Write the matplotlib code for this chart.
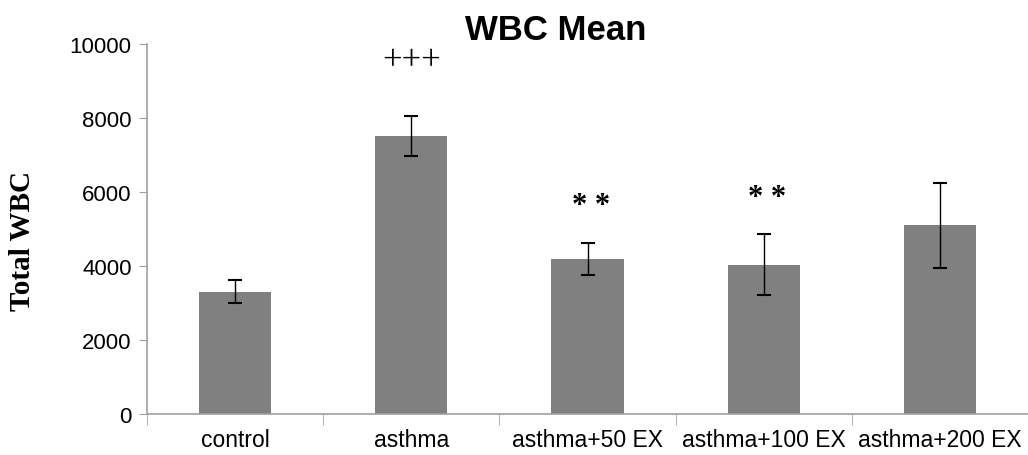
import matplotlib
matplotlib.use("Agg")
import matplotlib.pyplot as plt
import numpy as np
from matplotlib.ticker import FixedLocator

categories = ["control", "asthma", "asthma+50 EX", "asthma+100 EX", "asthma+200 EX"]
means = [3300, 7520, 4190, 4030, 5100]
errors = [310, 550, 425, 825, 1145]
annotations = ["", "+++", "* *", "* *", ""]
annot_y = [0, 9560, 5640, 5860, 0]
yticks = [0, 2000, 4000, 6000, 8000, 10000]

fig = plt.figure(figsize=(10.28, 4.56), dpi=100)
ax = fig.add_axes([0.143, 0.09, 0.857, 0.811])

x = np.arange(len(categories))
ax.bar(x, means, width=0.41, color="#808080", zorder=2)
ax.errorbar(x, means, yerr=errors, fmt="none", ecolor="black", elinewidth=1.0,
            capsize=5, capthick=1.5, zorder=3)

for xi, txt, yy in zip(x, annotations, annot_y):
    if txt:
        if txt.startswith("+"):
            ax.text(xi, yy, txt, ha="center", va="center", fontsize=25,
                    family="Liberation Serif")
        else:
            ax.text(xi + 0.02, yy, txt, ha="center", va="center", fontsize=22,
                    family="Liberation Serif", fontweight="bold")

ax.set_xlim(-0.5, len(categories) - 0.5)
ax.set_ylim(0, 10000)
ax.set_yticks(yticks)
ax.set_yticklabels([str(v) for v in yticks], family="Liberation Sans", fontsize=16)

ax.set_xticks(x)
ax.set_xticklabels(categories, family="Liberation Sans", fontsize=16.5)
ax.xaxis.set_minor_locator(FixedLocator(np.arange(-0.5, len(categories), 1.0)))
ax.tick_params(axis="x", which="major", length=0, pad=10)
ax.tick_params(axis="x", which="minor", length=8, color="#a0a0a0", direction="out")
ax.tick_params(axis="y", length=6, color="#a0a0a0", direction="out", pad=5)

for s in ["top", "right"]:
    ax.spines[s].set_visible(False)
for s in ["left", "bottom"]:
    ax.spines[s].set_color("#a0a0a0")
    ax.spines[s].set_linewidth(1.2)

fig.text(23 / 1028, 0.471, "Total WBC", rotation=90, ha="center", va="center",
         family="Liberation Serif", fontweight="bold", fontsize=21)
fig.text(0.541, 0.934, "WBC Mean", ha="center", va="center", family="Liberation Sans",
         fontweight="bold", fontsize=25)

fig.savefig("out.png", dpi=100)
